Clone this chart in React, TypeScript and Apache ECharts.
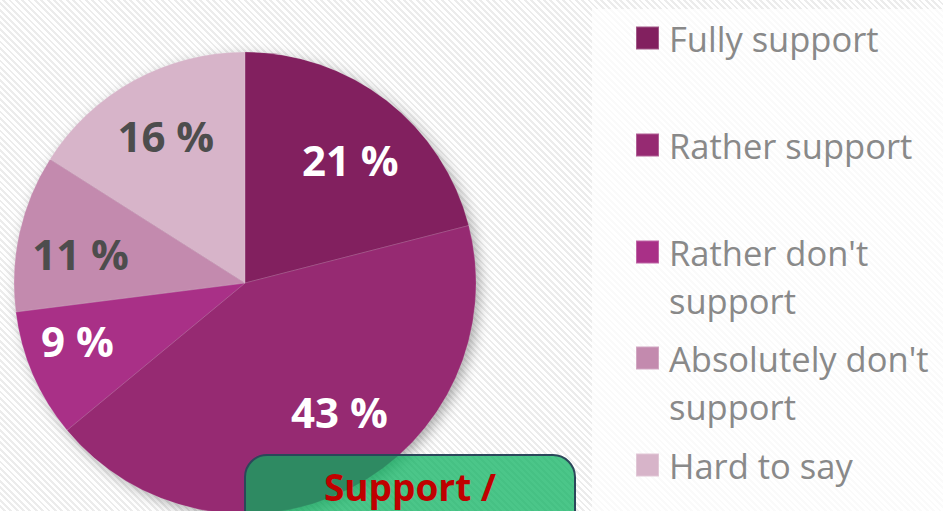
import React, { useEffect, useRef } from "react";
import * as echarts from "echarts";

const categories = [
  "Fully support",
  "Rather support",
  "Rather don't support",
  "Absolutely don't support",
  "Hard to say",
];
const legendLabels = [
  "Fully support",
  "Rather support",
  "\nRather don't\nsupport",
  "\nAbsolutely don't\nsupport",
  "Hard to say",
];
const values = [21, 43, 9, 11, 16];
const boxTitle = "Support /";

const sliceColors = ["#82205f", "#962a72", "#a93087", "#c38aae", "#d7b4c9"];
const labelColors = ["#ffffff", "#ffffff", "#ffffff", "#4d4d4d", "#4d4d4d"];
const legendCenters = [38, 145, 252, 358, 465];
const labelNudges = [
  [2, 10],
  [18, -22],
  [-13, -9],
  [0, 7],
  [2, 0],
];

export default function App() {
  const ref = useRef<HTMLDivElement>(null);
  useEffect(() => {
    if (!ref.current) return;
    const chart = echarts.init(ref.current, null, { renderer: "svg" });
    const cx = 245;
    const cy = 283;
    const R = 231;
    const font = "'Open Sans', sans-serif";
    const legends = categories.map((name, i) => {
      const lines = legendLabels[i].split("\n").length;
      return {
        show: true,
        orient: "vertical",
        left: 635,
        top: legendCenters[i] - (lines * 48) / 2,
        padding: 0,
        selectedMode: false,
        icon: "rect",
        itemWidth: 23,
        itemHeight: 23,
        data: [name],
        formatter: () => legendLabels[i],
        textStyle: {
          color: "#898989",
          fontSize: 34.5,
          fontFamily: font,
          lineHeight: 48,
          padding: [0, 0, 0, 5],
        },
      };
    });
    chart.setOption({
      animation: false,
      backgroundColor: "transparent",
      legend: legends,
      graphic: [
        {
          type: "rect",
          z: 0,
          shape: { x: 592, y: 9, width: 360, height: 520 },
          style: { fill: "rgba(255,255,255,0.75)" },
          silent: true,
        },
        {
          type: "circle",
          z: 1,
          shape: { cx: cx, cy: cy, r: R - 1 },
          style: {
            fill: "#7a2a60",
            shadowBlur: 14,
            shadowColor: "rgba(0,0,0,0.35)",
            shadowOffsetX: 4,
            shadowOffsetY: 4,
          },
          silent: true,
        },
        {
          type: "group",
          z: 100,
          children: [
            {
              type: "rect",
              z: 100,
              shape: { x: 245, y: 455, width: 330, height: 110, r: 22 },
              style: {
                fill: "rgba(6,176,91,0.72)",
                stroke: "#2b475a",
                lineWidth: 2,
              },
            },
            {
              type: "text",
              z: 101,
              x: 410,
              y: 486,
              style: {
                text: boxTitle,
                fill: "#c00000",
                font: `bold 37px ${font}`,
                align: "center",
                verticalAlign: "middle",
              },
            },
          ],
        },
      ],
      series: [
        {
          type: "pie",
          z: 2,
          center: [cx, cy],
          radius: [0, R],
          startAngle: 90,
          clockwise: true,
          silent: true,
          label: { show: false },
          labelLine: { show: false },
          itemStyle: { borderColor: "rgba(255,255,255,0.25)", borderWidth: 0.6 },
          data: categories.map((name, i) => ({
            name,
            value: values[i],
            itemStyle: { color: sliceColors[i] },
          })),
        },
        {
          type: "pie",
          z: 3,
          center: [cx, cy],
          radius: [100, R],
          startAngle: 90,
          clockwise: true,
          silent: true,
          itemStyle: { color: "rgba(0,0,0,0)" },
          labelLine: { show: false },
          label: {
            show: true,
            position: "inside",
            formatter: "{c} %",
            fontSize: 42,
            fontWeight: "bold",
            fontFamily: font,
          },
          labelLayout: (p: any) => ({
            dx: labelNudges[p.dataIndex][0],
            dy: labelNudges[p.dataIndex][1],
          }),
          data: categories.map((name, i) => ({
            name,
            value: values[i],
            label: { color: labelColors[i] },
          })),
        },
      ],
    });
    return () => chart.dispose();
  }, []);
  return (
    <div
      ref={ref}
      style={{
        position: "fixed",
        left: 0,
        top: 0,
        width: 943,
        height: 511,
        background:
          "repeating-linear-gradient(45deg, #ffffff 0px, #ffffff 2.5px, #ececec 2.5px, #ececec 4.5px)",
      }}
    />
  );
}
